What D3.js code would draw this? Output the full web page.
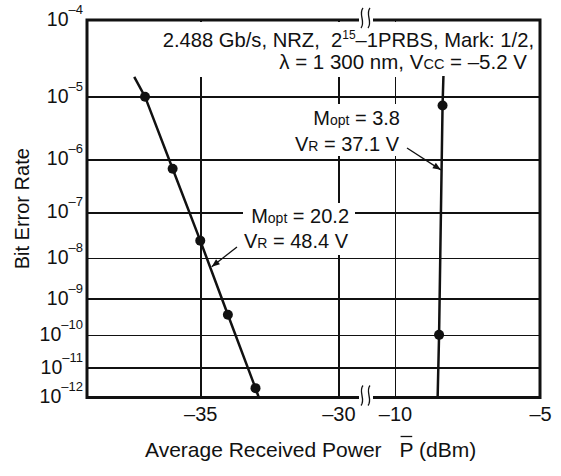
<!DOCTYPE html>
<meta charset="utf-8">
<script src="https://d3js.org/d3.v7.min.js"></script>
<style>
  body { margin: 0; background: #fff; }
  text { font-family: "Liberation Sans", Arial, sans-serif; fill: #111; white-space: pre; }
  .grid line { stroke: #111; stroke-width: 1.5; shape-rendering: crispEdges; }
  .grid path, .lab path { display: none; }
</style>
<div id="vis"></div>
<script>
// BER ticks are 10^-n
var berExponents = [4, 5, 6, 7, 8, 9, 10, 11, 12]
var gridExponents = [5, 6, 7, 8, 9, 10, 11]
var leftTicks = [-35, -30]
var rightTicks = [-10, -5]
var rightGrid = [-10]

// M = 20.2 curve (dots + line ends)
var highPower = [-37, -36, -35, -34, -33]
var highBer = [1e-5, 6.8e-7, 2.5e-8, 3.7e-10, 2.1e-12]
var highLinePower = [-37.39, -37, -36, -35, -34, -33, -32.88]
var highLineBer = [1.9e-5, 1e-5, 6.8e-7, 2.5e-8, 3.7e-10, 2.1e-12, 1e-12]

// M = 3.8 curve
var lowPower = [-8.36, -8.48]
var lowBer = [7.4e-6, 1e-10]
var lowLinePower = [-8.33, -8.36, -8.48, -8.53]
var lowLineBer = [1.96e-5, 7.4e-6, 1e-10, 1e-12]

var margin = {top: 20, left: 87}
var width = 453
var height = 377.5

var svg = d3.select("#vis").append("svg")
  .attr("width", 561).attr("height", 476)
  .append("g")
  .attr("transform", "translate(" + margin.left + "," + margin.top + ")")

// broken x axis: two linear pieces
var xLeft = d3.scaleLinear().domain([-39.1, -29]).range([0, 279])
var xRight = d3.scaleLinear().domain([-11, -5]).range([279, width])
function x(p) { return p > -20 ? xRight(p) : xLeft(p) }

// y is linear in log(-log(BER))
var yT = d3.scaleLinear().domain([Math.log10(4), Math.log10(12)]).range([0, height])
function y(b) { return yT(Math.log10(-Math.log10(b))) }

var dash = function(d) { return (d < 0 ? "\u2013" : "") + Math.abs(d) }

// grid
svg.append("g").attr("class", "grid")
  .call(d3.axisLeft(yT).tickValues(gridExponents.map(Math.log10)).tickSize(-width).tickFormat(""))
svg.append("g").attr("class", "grid")
  .attr("transform", "translate(0," + height + ")")
  .call(d3.axisBottom(xLeft).tickValues(leftTicks).tickSize(-height).tickFormat(""))
svg.append("g").attr("class", "grid")
  .attr("transform", "translate(0," + height + ")")
  .call(d3.axisBottom(xRight).tickValues(rightGrid).tickSize(-height).tickFormat(""))

// white boxes behind annotations
function box(x0, y0, x1, y1) {
  svg.append("rect").attr("x", x0).attr("y", y0)
    .attr("width", x1 - x0).attr("height", y1 - y0).attr("fill", "#fff")
}
box(68, 2, 451, 57)
box(156, 183, 268, 235)
box(203, 84, 317, 136)

// curves
var line = d3.line().x(function(d) { return x(d[0]) }).y(function(d) { return y(d[1]) })
svg.append("path").datum(d3.zip(highLinePower, highLineBer))
  .attr("d", line).attr("fill", "none").attr("stroke", "#111").attr("stroke-width", 2.5)
svg.append("path").datum(d3.zip(lowLinePower, lowLineBer))
  .attr("d", line).attr("fill", "none").attr("stroke", "#111").attr("stroke-width", 2.5)

svg.append("g").selectAll("circle")
  .data(d3.zip(highPower, highBer).concat(d3.zip(lowPower, lowBer)))
  .enter().append("circle")
  .attr("cx", function(d) { return x(d[0]) })
  .attr("cy", function(d) { return y(d[1]) })
  .attr("r", 5)
  .attr("fill", "#111")

// arrows
svg.append("defs").append("marker")
  .attr("id", "arr").attr("viewBox", "0 0 10 10").attr("refX", 10).attr("refY", 5)
  .attr("markerWidth", 10).attr("markerHeight", 8).attr("markerUnits", "userSpaceOnUse")
  .attr("orient", "auto")
  .append("path").attr("d", "M0,1L10,5L0,9z").attr("fill", "#111")

svg.append("line").attr("x1", 320).attr("y1", 128)
  .attr("x2", x(-8.42)).attr("y2", y(6.5e-7))
  .attr("stroke", "#111").attr("stroke-width", 1.3).attr("marker-end", "url(#arr)")
svg.append("line").attr("x1", 150).attr("y1", 227)
  .attr("x2", x(-34.55) - 1).attr("y2", y(6.3e-9))
  .attr("stroke", "#111").attr("stroke-width", 1.3).attr("marker-end", "url(#arr)")

// annotation text
function label(tx, ty, parts, fs) {
  var t = svg.append("text").attr("x", tx).attr("y", ty)
    .attr("text-anchor", "end").style("font-size", fs || "20px")
  parts.forEach(function(p) {
    var s = t.append("tspan").text(p[0])
    if (p[1]) s.style("font-size", p[1])
    if (p[2]) s.attr("dy", p[2])
  })
}
label(447, 27, [["2.488 Gb/s, NRZ,  2"], ["15", "12px", "-8"], ["\u20131PRBS, Mark: 1/2,", null, "8"]], "20.2px")
label(440, 49, [["\u03bb = 1 300 nm, V"], ["CC", "14.5px"], [" = \u20135.2 V"]], "20.5px")
label(313, 105, [["M"], ["opt", "14px"], [" = 3.8"]])
label(312, 131, [["V"], ["R", "14px"], [" = 37.1 V"]])
label(262, 203, [["M"], ["opt", "14px"], [" = 20.2"]])
label(261, 228, [["V"], ["R", "14px"], [" = 48.4 V"]])

// y tick labels
var yl = svg.append("g").attr("class", "lab")
  .call(d3.axisLeft(yT).tickValues(berExponents.map(Math.log10)).tickSize(0).tickPadding(4).tickFormat(""))
yl.selectAll("text").each(function(d) {
  var n = Math.round(Math.pow(10, d))
  var t = d3.select(this).attr("dy", "0.28em").style("font-size", "19.5px")
  t.append("tspan").text("10")
  t.append("tspan").attr("dy", -12).style("font-size", "13px").text("\u2013" + n)
})

// x tick labels
svg.append("g").attr("class", "lab").attr("transform", "translate(0," + height + ")")
  .call(d3.axisBottom(xLeft).tickValues(leftTicks).tickSize(0).tickPadding(9).tickFormat(dash))
  .selectAll("text").style("font-size", "20px")
svg.append("g").attr("class", "lab").attr("transform", "translate(0," + height + ")")
  .call(d3.axisBottom(xRight).tickValues(rightTicks).tickSize(0).tickPadding(9).tickFormat(dash))
  .selectAll("text").style("font-size", "20px")

// frame
svg.append("rect").attr("width", width).attr("height", height)
  .attr("fill", "none").attr("stroke", "#111").attr("stroke-width", 3)

// axis break marks
var bx = xLeft(-29)
;[0, height].forEach(function(yy) {
  svg.append("rect").attr("x", bx - 7).attr("y", yy - 3).attr("width", 14).attr("height", 6).attr("fill", "#fff")
  ;[-4, 3].forEach(function(dx) {
    var cx = bx + dx
    svg.append("path")
      .attr("d", "M" + (cx + 1) + "," + (yy - 12) + "C" + (cx - 4) + "," + (yy - 6) + " " + (cx + 4) + "," + (yy + 2) + " " + (cx - 1) + "," + (yy + 8))
      .attr("fill", "none").attr("stroke", "#111").attr("stroke-width", 1.3)
  })
})

// axis titles
svg.append("text")
  .attr("transform", "translate(-58," + (height / 2) + ") rotate(-90)")
  .attr("text-anchor", "middle").style("font-size", "20px")
  .text("Bit Error Rate")

var xt = svg.append("text").attr("x", 58).attr("y", height + 59).style("font-size", "21px")
xt.append("tspan").text("Average Received Power")
xt.append("tspan").attr("dx", 18).text("P")
xt.append("tspan").text(" (dBm)")
var node = xt.node()
var i0 = "Average Received Power".length
var px = node.getStartPositionOfChar(i0).x
var pw = node.getSubStringLength(i0, 1)
svg.append("line").attr("x1", px + 1).attr("x2", px + pw - 1)
  .attr("y1", height + 39).attr("y2", height + 39)
  .attr("stroke", "#111").attr("stroke-width", 1.3)
</script>
